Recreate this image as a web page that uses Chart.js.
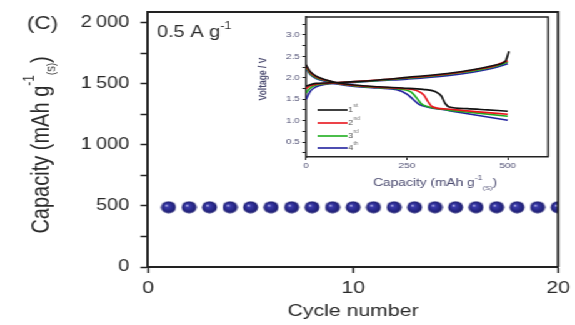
<!DOCTYPE html>
<html lang="en">
<head>
    <meta charset="UTF-8">
    <title>Capacity vs cycle number, 0.5 A g-1</title>
    <script src="https://cdn.jsdelivr.net/npm/chart.js"></script>
    <style>
        body, html { margin: 0; padding: 0; background: #fff; overflow: hidden; }
        /* the original figure is stretched horizontally */
        #stage { position: absolute; left: 0; top: 0; width: 460px; height: 325px; transform: scale(1.25, 1); transform-origin: 0 0; }
        #mainBox { position: absolute; left: 0; top: 0; width: 460px; height: 325px; }
        #insetBox { position: absolute; left: 200px; top: 12px; width: 245px; height: 180px; }
    </style>
</head>
<body>
    <div id="stage">
        <div id="mainBox"><canvas id="mainCanvas"></canvas></div>
        <div id="insetBox"><canvas id="insetCanvas"></canvas></div>
    </div>

    <script>
        // main plot: capacity per cycle
        const cycles = [1, 2, 3, 4, 5, 6, 7, 8, 9, 10, 11, 12, 13, 14, 15, 16, 17, 18, 19, 20];
        const capacity = [490, 490, 490, 490, 490, 490, 490, 490, 490, 490, 490, 490, 490, 490, 490, 490, 490, 490, 490, 490];

        // inset: voltage profiles, cycles 1-4
        const cycleNames = ['1', '2', '3', '4'];
        const cycleSups = ['st', 'nd', 'rd', 'th'];
        const cycleColors = ['#111111', '#e8141c', '#1fae1f', '#22229e'];

        const dis1Cap = [0, 10, 25, 50, 80, 120, 180, 240, 290, 320, 335, 345, 355, 400, 450, 500];
        const dis1V   = [2.3, 2.15, 2.04, 1.95, 1.88, 1.83, 1.79, 1.76, 1.73, 1.68, 1.58, 1.4, 1.32, 1.28, 1.25, 1.22];
        const dis2Cap = [0, 10, 25, 50, 80, 120, 180, 240, 275, 292, 302, 312, 350, 420, 500];
        const dis2V   = [2.28, 2.13, 2.02, 1.94, 1.87, 1.82, 1.78, 1.75, 1.7, 1.6, 1.45, 1.33, 1.27, 1.21, 1.15];
        const dis3Cap = [0, 10, 25, 50, 80, 120, 180, 230, 260, 275, 285, 300, 350, 420, 500];
        const dis3V   = [2.25, 2.1, 2.0, 1.93, 1.86, 1.81, 1.77, 1.74, 1.67, 1.52, 1.4, 1.33, 1.25, 1.18, 1.1];
        const dis4Cap = [0, 10, 25, 50, 80, 120, 180, 225, 250, 265, 280, 300, 350, 420, 500];
        const dis4V   = [2.22, 2.08, 1.98, 1.91, 1.85, 1.8, 1.76, 1.72, 1.62, 1.5, 1.38, 1.32, 1.24, 1.13, 1.01];

        const cha1Cap = [0, 10, 25, 50, 80, 120, 180, 250, 350, 420, 470, 495, 503];
        const cha1V   = [1.8, 1.84, 1.87, 1.88, 1.89, 1.91, 1.95, 2.01, 2.1, 2.2, 2.3, 2.4, 2.62];
        const chaCap  = [0, 10, 25, 50, 80, 120, 180, 250, 350, 420, 470, 500];
        const cha2V   = [1.75, 1.81, 1.85, 1.87, 1.89, 1.91, 1.95, 2.0, 2.09, 2.19, 2.29, 2.4];
        const cha3V   = [1.65, 1.76, 1.83, 1.86, 1.88, 1.9, 1.94, 1.99, 2.08, 2.17, 2.27, 2.37];
        const cha4V   = [1.5, 1.68, 1.79, 1.85, 1.87, 1.89, 1.93, 1.97, 2.05, 2.14, 2.24, 2.33];

        const textColor = '#2a2a2a';
        const insetText = '#4b4b70';
        const axisColor = '#222';
        const fontFam = 'Liberation Sans, Arial, sans-serif';

        function pairs(xs, ys) { return xs.map((x, i) => ({ x: x, y: ys[i] })); }

        // keep chart area exactly where the layout padding puts it
        function noPad(s) { s.paddingTop = 0; s.paddingBottom = 0; s.paddingLeft = 0; s.paddingRight = 0; }

        // text with superscript / subscript pieces
        function drawRich(ctx, pieces, x0, y0, angle, align) {
            ctx.save();
            ctx.translate(x0, y0);
            ctx.rotate(angle);
            ctx.textBaseline = 'middle';
            ctx.textAlign = 'left';
            let total = 0;
            pieces.forEach(p => { ctx.font = p.font; total += ctx.measureText(p.text).width; });
            let x = align === 'left' ? 0 : -total / 2;
            pieces.forEach(p => {
                ctx.font = p.font;
                ctx.fillStyle = p.color;
                ctx.fillText(p.text, x, p.dy || 0);
                x += ctx.measureText(p.text).width;
            });
            ctx.restore();
        }

        function makeBall(r) {
            const c = document.createElement('canvas');
            c.width = c.height = r * 2 + 1;
            const g = c.getContext('2d');
            const grad = g.createRadialGradient(r * 0.8, r * 0.8, 0.3, r + 0.5, r + 0.5, r);
            grad.addColorStop(0, '#c8c8f0');
            grad.addColorStop(0.2, '#3c3cac');
            grad.addColorStop(1, '#1a1a6c');
            g.fillStyle = grad;
            g.beginPath();
            g.arc(r + 0.5, r + 0.5, r, 0, Math.PI * 2);
            g.fill();
            return c;
        }

        const framePlugin = {
            id: 'frame',
            afterDraw(chart, args, opts) {
                const a = chart.chartArea, ctx = chart.ctx;
                ctx.save();
                ctx.strokeStyle = axisColor;
                ctx.lineWidth = opts.width;
                ctx.beginPath();
                ctx.moveTo(a.left, a.top);
                ctx.lineTo(a.right, a.top);
                ctx.lineTo(a.right, a.bottom);
                ctx.stroke();
                ctx.restore();
            }
        };

        const mainText = {
            id: 'mainText',
            afterDraw(chart) {
                const ctx = chart.ctx;
                drawRich(ctx, [{ text: '(C)', font: `18px ${fontFam}`, color: textColor }], 21.5, 24, 0, 'left');
                drawRich(ctx, [
                    { text: '0.5 A g', font: `16px ${fontFam}`, color: textColor },
                    { text: '-1', font: `10px ${fontFam}`, color: textColor, dy: -7 }
                ], 125.5, 33, 0, 'left');
                drawRich(ctx, [
                    { text: 'Capacity (mAh g', font: `20px ${fontFam}`, color: textColor },
                    { text: '-1', font: `12px ${fontFam}`, color: textColor, dy: -9 },
                    { text: '(S)', font: `9px ${fontFam}`, color: textColor, dy: 9 },
                    { text: ')', font: `20px ${fontFam}`, color: textColor }
                ], 33, 145, -Math.PI / 2, 'center');
            }
        };

        const insetLabels = {
            id: 'insetLabels',
            afterDraw(chart) {
                const ctx = chart.ctx;
                drawRich(ctx, [
                    { text: 'Capacity (mAh g', font: `11px ${fontFam}`, color: insetText },
                    { text: '-1', font: `7px ${fontFam}`, color: insetText, dy: -5 },
                    { text: '(S)', font: `6px ${fontFam}`, color: insetText, dy: 5 },
                    { text: ')', font: `11px ${fontFam}`, color: insetText }
                ], 148, 171, 0, 'center');
                drawRich(ctx, [{ text: 'Voltage / V', font: `bold 8.5px ${fontFam}`, color: insetText }], 11, 67, -Math.PI / 2, 'center');

                // legend
                const ys = [98, 111, 124, 136];
                ctx.save();
                ctx.lineWidth = 1.6;
                ys.forEach((y, i) => {
                    ctx.strokeStyle = cycleColors[i];
                    ctx.beginPath();
                    ctx.moveTo(54, y);
                    ctx.lineTo(78, y);
                    ctx.stroke();
                    drawRich(ctx, [
                        { text: cycleNames[i], font: `7px ${fontFam}`, color: '#555' },
                        { text: cycleSups[i], font: `5px ${fontFam}`, color: '#777', dy: -4 }
                    ], 78.5, y, 0, 'left');
                });
                ctx.restore();
            }
        };

        const ball = makeBall(6);

        new Chart(document.getElementById('mainCanvas'), {
            type: 'scatter',
            data: {
                datasets: [{
                    data: pairs(cycles, capacity),
                    pointStyle: ball,
                    pointRadius: 6,
                    clip: 0
                }]
            },
            options: {
                responsive: true,
                maintainAspectRatio: false,
                animation: false,
                layout: { padding: { left: 0, right: 13.6, top: 12, bottom: 0 } },
                plugins: { legend: { display: false }, tooltip: { enabled: false }, frame: { width: 2 } },
                scales: {
                    x: {
                        type: 'linear', min: 0, max: 20,
                        afterFit: s => { s.height = 58; noPad(s); },
                        ticks: { stepSize: 10, includeBounds: false, autoSkip: false, color: textColor, padding: 5, font: { size: 17, family: fontFam }, maxRotation: 0 },
                        grid: { drawOnChartArea: false, tickLength: 6, tickWidth: 1.5, color: axisColor },
                        border: { color: axisColor, width: 2 },
                        title: { display: true, text: 'Cycle number', color: textColor, padding: { top: 0, bottom: 3 }, font: { size: 17, family: fontFam } }
                    },
                    y: {
                        min: 0, max: 2090,
                        afterFit: s => { s.width = 118.4; noPad(s); },
                        ticks: {
                            stepSize: 250, includeBounds: false, autoSkip: false, color: textColor, padding: 9,
                            font: { size: 16, family: fontFam },
                            callback: v => v % 500 === 0 ? (v >= 1000 ? Math.floor(v / 1000) + '\u2009' + String(v % 1000).padStart(3, '0') : String(v)) : ''
                        },
                        grid: { drawOnChartArea: false, tickLength: 6, tickWidth: 1.5, color: axisColor },
                        border: { color: axisColor, width: 2 }
                    }
                }
            },
            plugins: [framePlugin, mainText]
        });

        const disCaps = [dis1Cap, dis2Cap, dis3Cap, dis4Cap];
        const disVs = [dis1V, dis2V, dis3V, dis4V];
        const chaCaps = [cha1Cap, chaCap, chaCap, chaCap];
        const chaVs = [cha1V, cha2V, cha3V, cha4V];
        const insetSets = [];
        for (let i = 0; i < 4; i++) {
            insetSets.push({ data: pairs(disCaps[i], disVs[i]), borderColor: cycleColors[i] });
            insetSets.push({ data: pairs(chaCaps[i], chaVs[i]), borderColor: cycleColors[i] });
        }
        insetSets.forEach(d => {
            d.showLine = true;
            d.pointRadius = 0;
            d.borderWidth = 1.6;
            d.cubicInterpolationMode = 'monotone';
        });

        new Chart(document.getElementById('insetCanvas'), {
            type: 'scatter',
            data: { datasets: insetSets },
            options: {
                responsive: true,
                maintainAspectRatio: false,
                animation: false,
                layout: { padding: { left: 0, right: 6.6, top: 5, bottom: 0 } },
                plugins: { legend: { display: false }, tooltip: { enabled: false }, frame: { width: 1.5 } },
                scales: {
                    x: {
                        type: 'linear', min: 0, max: 600,
                        afterFit: s => { s.height = 35; noPad(s); },
                        ticks: { stepSize: 250, includeBounds: false, autoSkip: false, color: insetText, padding: 1, font: { size: 8, family: fontFam }, maxRotation: 0 },
                        grid: { drawOnChartArea: false, tickLength: 3, tickWidth: 1, color: axisColor },
                        border: { color: axisColor, width: 1.5 }
                    },
                    y: {
                        min: 0.15, max: 3.42,
                        afterFit: s => { s.width = 44.8; noPad(s); },
                        ticks: {
                            stepSize: 0.25, includeBounds: false, autoSkip: false, color: insetText, padding: 2,
                            font: { size: 8, family: fontFam },
                            callback: v => Math.abs(v * 2 - Math.round(v * 2)) < 1e-6 ? v.toFixed(1) : ''
                        },
                        grid: { drawOnChartArea: false, tickLength: 3, tickWidth: 1, color: axisColor },
                        border: { color: axisColor, width: 1.5 }
                    }
                }
            },
            plugins: [framePlugin, insetLabels]
        });
    </script>
</body>
</html>
